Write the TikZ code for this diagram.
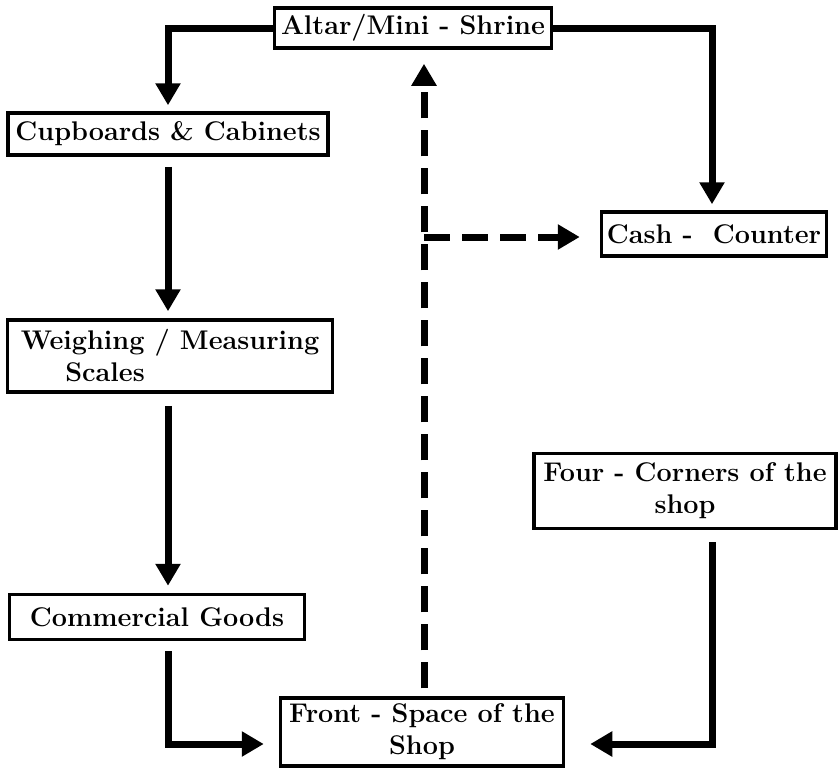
\documentclass[tikz,border=0pt]{standalone}
\usetikzlibrary{arrows.meta,calc}
\begin{document}
\begin{tikzpicture}[x=1pt,y=-1pt,
  box/.style={draw, line width=3.5pt, inner sep=0pt, font=\fontsize{27}{32}\selectfont\bfseries},
  flow/.style={line width=7pt, -{Triangle[length=22pt,width=24pt]}},
  dflow/.style={flow, dash pattern=on 26pt off 12pt}]
\useasboundingbox (0,0) rectangle (840,771);
\node[box, minimum width=277pt, minimum height=40pt] (altar) at (413,28) {Altar/Mini - Shrine};
\node[box, minimum width=320pt, minimum height=42pt] (cup) at (168,134) {Cupboards \& Cabinets};
\node[box, minimum width=325pt, minimum height=72pt, align=left] (weigh) at (170,356) {Weighing / Measuring\\\hspace*{1.65em}Scales};
\node[box, minimum width=295pt, minimum height=45pt] (comm) at (157,617) {Commercial Goods};
\node[box, minimum width=283pt, minimum height=68pt, align=center] (front) at (422,732) {Front - Space of the\\Shop};
\node[box, minimum width=225pt, minimum height=44pt] (cash) at (714,234) {Cash - \ Counter};
\node[box, minimum width=302pt, minimum height=75pt, align=center] (four) at (685,491) {Four - Corners of the\\shop};
\coordinate (lc) at (168,28);
\coordinate (rc) at (712,28);
\coordinate (bl) at (168,744);
\coordinate (br) at (712,744);
\coordinate (dj) at (424,237);
\draw[flow, shorten >=6pt] (altar.west) -- (lc) -- (lc |- cup.north);
\draw[flow, shorten >=6pt] (altar.east) -- (rc) -- (rc |- cash.north);
\draw[flow, shorten <=10pt, shorten >=7pt] (cup.south -| lc) -- (weigh.north -| lc);
\draw[flow, shorten <=12pt, shorten >=7pt] (weigh.south -| lc) -- (comm.north -| lc);
\draw[flow, shorten <=10pt, shorten >=15pt] (comm.south -| bl) -- (bl) -- (bl -| front.west);
\draw[flow, shorten <=12pt, shorten >=25pt] (four.south -| br) -- (br) -- (br -| front.east);
\draw[dflow, shorten <=8pt, shorten >=14pt] (front.north -| dj) -- (altar.south -| dj);
\draw[dflow, shorten >=20pt] (dj) -- (dj -| cash.west);
\end{tikzpicture}
\end{document}
